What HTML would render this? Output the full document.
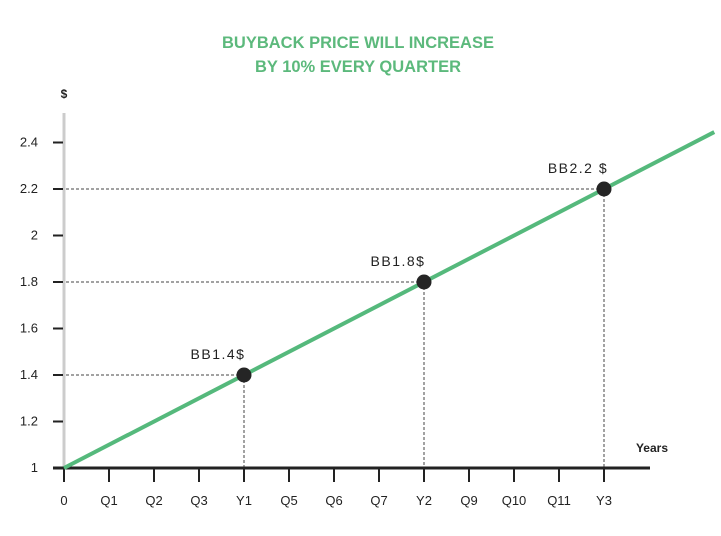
<!DOCTYPE html>
<html><head><meta charset="utf-8"><style>
body{margin:0;background:#fff;width:721px;height:536px;overflow:hidden}
svg{display:block;font-family:"Liberation Sans",sans-serif}
</style></head><body>
<svg id="chart" width="721" height="536" viewBox="0 0 721 536">
<text x="358" y="48" text-anchor="middle" font-size="16.5" font-weight="bold" fill="#5cb97c">BUYBACK PRICE WILL INCREASE</text>
<text x="358" y="72" text-anchor="middle" font-size="16.5" font-weight="bold" fill="#5cb97c">BY 10% EVERY QUARTER</text>
<text x="64" y="98" text-anchor="middle" font-size="12" font-weight="bold" fill="#222">$</text>
<text x="652" y="452" text-anchor="middle" font-size="12" font-weight="bold" fill="#222">Years</text>
<g id="grid"></g><g id="axes"></g><g id="marks"></g>
</svg>
<script>
const xLabels=["0","Q1","Q2","Q3","Y1","Q5","Q6","Q7","Y2","Q9","Q10","Q11","Y3"];
const yTicks=[1,1.2,1.4,1.6,1.8,2,2.2,2.4];
const yTickLabels=["1","1.2","1.4","1.6","1.8","2","2.2","2.4"];
const pointQuarters=[4,8,12];
const pointValues=[1.4,1.8,2.2];
const pointLabels=["BB1.4$","BB1.8$","BB2.2 $"];
const lineQuarters=[0,14.45];
const lineValues=[1,2.445];
const NS="http://www.w3.org/2000/svg";
const x=q=>64+q*45;
const y=v=>468-(v-1)*232.5;
function mk(tag,attrs,parent){const e=document.createElementNS(NS,tag);for(const k in attrs)e.setAttribute(k,attrs[k]);parent.appendChild(e);return e;}
const axes=document.getElementById('axes'),grid=document.getElementById('grid'),marks=document.getElementById('marks');
let ya=mk('line',{x1:64,y1:113,x2:64,y2:468,stroke:'#ccc','stroke-width':3},axes);


yTicks.forEach((v,i)=>{
 const t=mk('line',{x1:53,x2:63,y1:y(v),y2:y(v),stroke:'#222','stroke-width':2},axes);
 
 
 const l=mk('text',{x:38,y:y(v)+4,'text-anchor':'end','font-size':13,fill:'#222'},axes);
 l.textContent=yTickLabels[i];
 
 
});
let xa=mk('line',{x1:53,y1:468,x2:650,y2:468,stroke:'#222','stroke-width':3},axes);


xLabels.forEach((s,i)=>{
 const t=mk('line',{x1:x(i),x2:x(i),y1:468,y2:482,stroke:'#222','stroke-width':2},axes);
 
 
 const l=mk('text',{x:x(i),y:505,'text-anchor':'middle','font-size':13,fill:'#222'},axes);
 l.textContent=s;
 
 
});
pointQuarters.forEach((q,i)=>{
 const h=mk('line',{x1:66,x2:x(q),y1:y(pointValues[i]),y2:y(pointValues[i]),stroke:'#444','stroke-width':1,'stroke-dasharray':'3,2'},grid);
 
 
 const v=mk('line',{x1:x(q),x2:x(q),y1:y(pointValues[i]),y2:467,stroke:'#444','stroke-width':1,'stroke-dasharray':'3,2'},grid);
 
 
});
const ln=mk('line',{x1:x(lineQuarters[0]),y1:y(lineValues[0]),x2:x(lineQuarters[1]),y2:y(lineValues[1]),stroke:'#55b97c','stroke-width':4},marks);


pointQuarters.forEach((q,i)=>{
 const c=mk('circle',{cx:x(q),cy:y(pointValues[i]),r:7.5,fill:'#252525'},marks);
 
 
 const l=mk('text',{x:x(q)-26,y:y(pointValues[i])-16,'text-anchor':'middle','font-size':14,fill:'#222','letter-spacing':'1.5'},marks);
 l.textContent=pointLabels[i];
 
 
});
</script>
</body></html>
